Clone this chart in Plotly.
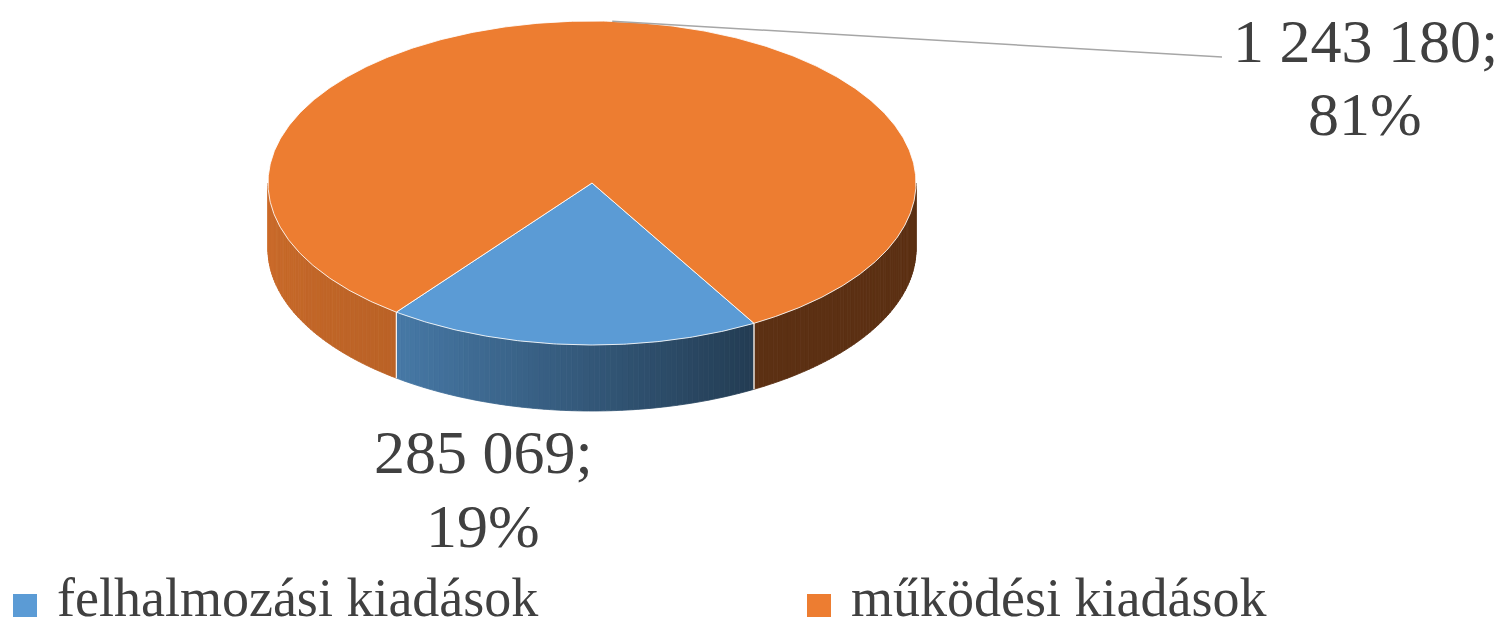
import numpy as np
import plotly.graph_objects as go

# ---------------- data ----------------
categories = ["felhalmozási kiadások", "működési kiadások"]
values = [285069, 1243180]
value_labels = ["285 069", "1 243 180"]
slice_colors = ["#5B9BD5", "#ED7D31"]

# ---------------- style / layout ----------------
W, H = 1504, 630
PAGE_MARGIN = 8            # default body margin of the html page
CX, CY = 592, 183          # centre of top ellipse (px)
RX, RY = 324, 162          # radii of top ellipse
DEPTH = 66                 # thickness of the 3D pie
FIRST_ANGLE = 150          # first slice angle, clockwise from 12 o'clock
FONT = "Liberation Serif"
TXT = "#404040"
# lighting of the side wall as a function of the screen angle t (deg)
LIGHT_T = [0, 60, 128.4, 180]
LIGHT_K = [0.39, 0.39, 0.79, 0.86]

# label placement (centre x, line centres y) and legend placement
label_pos = [(483, 452, 526), (1365, 41, 114)]
leader_end = [None, (1222, 57)]
legend_x = [13, 807]
legend_y = (594, 617)
legend_text_y = 598


def hex2rgb(h):
    h = h.lstrip("#")
    return tuple(int(h[i:i + 2], 16) for i in (0, 2, 4))


def ell(t_deg):
    t = np.radians(t_deg)
    return CX + RX * np.cos(t), CY + RY * np.sin(t)


total = sum(values)
fracs = [v / total for v in values]
pcts = [int(round(f * 100)) for f in fracs]

# slice angle ranges in screen param t (clockwise from 3 o'clock, y down)
ranges = []
acc = FIRST_ANGLE - 90
for f in fracs:
    ranges.append((acc, acc + f * 360))
    acc += f * 360

fig = go.Figure()

# ---------- side walls (front half only: t in [0,180] mod 360) ----------
for (t0, t1), col in zip(ranges, slice_colors):
    base = np.array(hex2rgb(col), dtype=float)
    pieces = []
    for off in (0, 360, -360):
        a, b = max(t0, off + 0), min(t1, off + 180)
        if b > a:
            pieces.append((a - off, b - off))
    for a, b in pieces:
        n = max(2, int(np.ceil((b - a) / 1.0)))
        ts = np.linspace(a, b, n + 1)
        for j in range(n):
            tm = 0.5 * (ts[j] + ts[j + 1])
            k = np.interp(tm, LIGHT_T, LIGHT_K)
            c = np.clip(base * k, 0, 255).astype(int)
            cstr = f"rgb({c[0]},{c[1]},{c[2]})"
            xa, ya = ell(ts[j])
            xb, yb = ell(ts[j + 1])
            fig.add_trace(go.Scatter(
                x=[xa, xb, xb, xa, xa], y=[ya, yb, yb + DEPTH, ya + DEPTH, ya],
                mode="lines", fill="toself", fillcolor=cstr,
                line=dict(color=cstr, width=0.8), hoverinfo="skip",
                showlegend=False))

# white edges on the wall at slice boundaries
for t0, t1 in ranges:
    for t in (t0, t1):
        tt = t % 360
        if 0 < tt < 180:
            x, y = ell(tt)
            fig.add_trace(go.Scatter(
                x=[x, x], y=[y, y + DEPTH], mode="lines",
                line=dict(color="rgba(255,255,255,0.8)", width=1),
                hoverinfo="skip", showlegend=False))

# ---------- top faces ----------
for (t0, t1), col, name in zip(ranges, slice_colors, categories):
    ts = np.linspace(t0, t1, int(abs(t1 - t0) * 2) + 2)
    xs, ys = ell(ts)
    px = np.concatenate([[CX], xs, [CX]])
    py = np.concatenate([[CY], ys, [CY]])
    fig.add_trace(go.Scatter(
        x=px, y=py, mode="lines", fill="toself", fillcolor=col,
        line=dict(color="rgba(255,255,255,0.85)", width=1),
        name=name, hoverinfo="skip", showlegend=False))

# ---------- leader lines & labels ----------
for i, ((t0, t1), vl, p) in enumerate(zip(ranges, value_labels, pcts)):
    if leader_end[i] is not None:
        xm, ym = ell(0.5 * (t0 + t1))
        ex, ey = leader_end[i]
        fig.add_trace(go.Scatter(
            x=[xm, ex], y=[ym, ey], mode="lines",
            line=dict(color="#A6A6A6", width=1.5),
            hoverinfo="skip", showlegend=False))
    lx, ly1, ly2 = label_pos[i]
    for txt, yy in ((f"{vl};", ly1), (f"{p}%", ly2)):
        fig.add_annotation(x=lx, y=yy, text=txt, showarrow=False,
                           xanchor="center", yanchor="middle",
                           font=dict(family=FONT, size=62, color=TXT))

# ---------- legend ----------
for name, col, lx in zip(categories, slice_colors, legend_x):
    fig.add_shape(type="rect", x0=lx, x1=lx + 24, y0=legend_y[0], y1=legend_y[1],
                  xref="x", yref="y", fillcolor=col, line=dict(width=0))
    fig.add_annotation(x=lx + 42, y=legend_text_y, text=name, showarrow=False,
                       xanchor="left", yanchor="middle",
                       font=dict(family=FONT, size=54, color=TXT))

# figure starts PAGE_MARGIN px into the page, so map axes to page pixels
fig.update_layout(
    width=W - PAGE_MARGIN, height=H - PAGE_MARGIN,
    margin=dict(l=0, r=0, t=0, b=0, pad=0),
    paper_bgcolor="white", plot_bgcolor="white", showlegend=False,
    xaxis=dict(range=[PAGE_MARGIN, W], visible=False, fixedrange=True),
    yaxis=dict(range=[H, PAGE_MARGIN], visible=False, fixedrange=True),
)

fig.write_html("out.html")
